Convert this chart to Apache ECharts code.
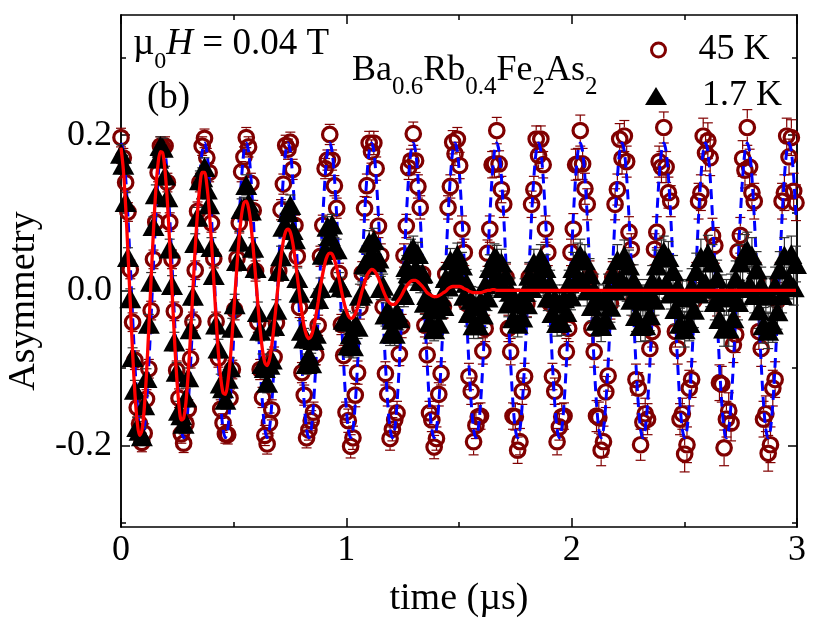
<!DOCTYPE html>
<html>
<head>
<meta charset="utf-8">
<script src="https://cdn.jsdelivr.net/npm/echarts@6/dist/echarts.min.js"></script>
<style>
html,body{margin:0;padding:0;background:#fff;}
#chart{width:814px;height:623px;}
</style>
</head>
<body>
<div id="chart"></div>
<script>
// ---------------- data ----------------
// time bins (µs): value i sits at i * binWidthUs
const binWidthUs = 0.010294;

// 45 K asymmetry (circles)
const asym45K = [
0.197,0.171,0.139,0.101,0.027,-0.041,-0.090,-0.151,-0.172,-0.196,-0.184,-0.140,-0.101,-0.026,0.040,0.088,0.152,0.186,
0.184,0.186,0.139,0.088,0.040,-0.027,-0.103,-0.139,-0.185,-0.197,-0.172,-0.153,-0.088,-0.040,0.026,0.102,0.139,0.186,
0.196,0.171,0.152,0.087,0.041,-0.040,-0.087,-0.153,-0.171,-0.185,-0.186,-0.139,-0.102,-0.025,0.041,0.087,0.153,0.172,
0.197,0.185,0.138,0.103,0.025,-0.041,-0.102,-0.138,-0.187,-0.198,-0.171,-0.154,-0.086,-0.042,0.025,0.104,0.137,0.187,
0.182,0.191,0.156,0.084,0.044,-0.022,-0.106,-0.135,-0.190,-0.180,-0.168,-0.157,-0.083,-0.045,0.044,0.084,0.157,0.168,
0.201,0.168,0.135,0.106,0.022,-0.044,-0.084,-0.157,-0.168,-0.201,-0.190,-0.135,-0.106,-0.022,0.022,0.106,0.135,0.190,
0.179,0.190,0.157,0.083,0.045,-0.021,-0.107,-0.134,-0.191,-0.179,-0.167,-0.158,-0.082,-0.046,0.045,0.083,0.158,0.167,
0.202,0.167,0.134,0.107,0.021,-0.045,-0.083,-0.158,-0.167,-0.202,-0.191,-0.134,-0.107,-0.021,0.021,0.107,0.134,0.191,
0.176,0.195,0.161,0.079,0.049,-0.017,-0.111,-0.130,-0.195,-0.174,-0.163,-0.162,-0.078,-0.049,0.048,0.079,0.162,0.163,
0.206,0.163,0.130,0.111,0.017,-0.049,-0.079,-0.162,-0.163,-0.206,-0.195,-0.130,-0.111,-0.017,0.017,0.111,0.130,0.195,
0.174,0.195,0.162,0.079,0.049,-0.017,-0.111,-0.130,-0.195,-0.176,-0.163,-0.162,-0.079,-0.049,0.049,0.079,0.162,0.163,
0.206,0.163,0.131,0.111,0.018,-0.049,-0.079,-0.162,-0.164,-0.206,-0.195,-0.131,-0.110,-0.017,0.017,0.111,0.130,0.195,
0.170,0.199,0.166,0.075,0.053,-0.013,-0.115,-0.126,-0.199,-0.170,-0.159,-0.166,-0.075,-0.053,0.053,0.075,0.166,0.159,
0.210,0.159,0.126,0.115,0.013,-0.053,-0.075,-0.166,-0.159,-0.211,-0.199,-0.126,-0.115,-0.013,0.013,0.115,0.126,0.199,
0.177,0.193,0.171,0.070,0.058,-0.010,-0.119,-0.121,-0.203,-0.166,-0.155,-0.171,-0.070,-0.057,0.050,0.071,0.170,0.155,
0.210,0.159,0.126,0.115,0.013,-0.053,-0.075,-0.166,-0.159,-0.210,-0.199,-0.126,-0.115,-0.013,0.013,0.115,0.126,0.199,
0.172,0.197,0.128,0.113
];

// 1.7 K asymmetry (triangles)
const asym1p7K = [
0.176,0.162,0.114,0.043,-0.010,-0.086,-0.128,-0.176,-0.181,-0.188,-0.148,-0.113,-0.043,0.011,0.083,0.124,0.170,0.186,
0.184,0.148,0.120,0.054,0.007,-0.066,-0.105,-0.155,-0.161,-0.172,-0.138,-0.112,-0.050,-0.007,0.061,0.095,0.142,0.146,
0.159,0.130,0.111,0.056,0.020,-0.044,-0.075,-0.120,-0.126,-0.141,-0.114,-0.099,-0.048,-0.018,0.038,0.063,0.105,0.107,
0.136,0.113,0.103,0.055,0.029,-0.028,-0.052,-0.095,-0.100,-0.119,-0.096,-0.089,-0.046,-0.025,0.025,0.044,0.082,0.083,
0.101,0.110,0.078,0.066,0.016,-0.003,-0.052,-0.062,-0.095,-0.084,-0.094,-0.064,-0.056,-0.011,0.003,0.046,0.052,0.082,
0.070,0.085,0.055,0.053,0.010,0.004,-0.038,-0.040,-0.071,-0.057,-0.072,-0.044,-0.047,-0.007,-0.004,0.034,0.033,0.062,
0.048,0.065,0.036,0.041,0.003,0.006,-0.031,-0.026,-0.056,-0.038,-0.056,-0.028,-0.036,0.000,-0.006,0.030,0.022,0.051,
0.055,0.029,0.047,0.012,0.022,-0.016,-0.006,-0.041,-0.024,-0.050,-0.025,-0.043,-0.008,-0.020,0.016,0.005,0.039,0.021,
0.021,0.046,0.015,0.032,-0.007,0.010,-0.029,-0.012,-0.045,-0.020,-0.045,-0.013,-0.031,0.008,-0.009,0.029,0.010,0.043,
0.041,0.015,0.036,0.003,0.019,-0.017,-0.001,-0.036,-0.015,-0.043,-0.016,-0.035,-0.002,-0.018,0.019,0.003,0.036,0.016,
0.017,0.042,0.010,0.029,-0.009,0.009,-0.029,-0.010,-0.042,-0.017,-0.041,-0.010,-0.028,0.009,-0.008,0.029,0.011,0.041,
0.046,0.013,0.039,0.000,0.021,-0.020,0.001,-0.039,-0.012,-0.046,-0.013,-0.038,0.001,-0.021,0.021,0.000,0.039,0.013,
0.013,0.045,0.006,0.032,-0.012,0.013,-0.033,-0.006,-0.046,-0.013,-0.045,-0.006,-0.032,0.012,-0.012,0.032,0.007,0.045,
0.050,0.010,0.043,-0.004,0.025,-0.024,0.005,-0.043,-0.008,-0.050,-0.009,-0.042,0.005,-0.025,0.025,-0.004,0.043,0.009,
0.010,0.048,0.002,0.036,-0.015,0.016,-0.037,-0.003,-0.049,-0.009,-0.049,-0.002,-0.036,0.015,-0.015,0.036,0.003,0.049,
0.052,0.008,0.045,-0.006,0.027,-0.026,0.007,-0.045,-0.005,-0.052,-0.007,-0.044,0.007,-0.027,0.027,-0.006,0.045,0.007,
0.012,0.047,0.004,0.034
];

// fit curve for 45 K (blue dashed), same time bins
const fit45K = [
0.190,0.179,0.146,0.095,0.033,-0.033,-0.095,-0.146,-0.179,-0.190,-0.179,-0.146,-0.095,-0.033,0.033,0.095,0.146,0.179,
0.190,0.179,0.146,0.095,0.033,-0.033,-0.095,-0.146,-0.179,-0.190,-0.179,-0.146,-0.095,-0.033,0.033,0.095,0.146,0.179,
0.190,0.179,0.146,0.095,0.033,-0.033,-0.095,-0.146,-0.179,-0.190,-0.179,-0.146,-0.095,-0.033,0.033,0.095,0.146,0.179,
0.190,0.179,0.146,0.095,0.033,-0.033,-0.095,-0.146,-0.179,-0.190,-0.179,-0.146,-0.095,-0.033,0.033,0.095,0.146,0.179,
0.190,0.179,0.146,0.095,0.033,-0.033,-0.095,-0.146,-0.179,-0.190,-0.179,-0.146,-0.095,-0.033,0.033,0.095,0.146,0.179,
0.190,0.179,0.146,0.095,0.033,-0.033,-0.095,-0.146,-0.179,-0.190,-0.179,-0.146,-0.095,-0.033,0.033,0.095,0.146,0.179,
0.190,0.179,0.146,0.095,0.033,-0.033,-0.095,-0.146,-0.179,-0.190,-0.179,-0.146,-0.095,-0.033,0.033,0.095,0.146,0.179,
0.190,0.179,0.146,0.095,0.033,-0.033,-0.095,-0.146,-0.179,-0.190,-0.179,-0.146,-0.095,-0.033,0.033,0.095,0.146,0.179,
0.190,0.179,0.146,0.095,0.033,-0.033,-0.095,-0.146,-0.179,-0.190,-0.179,-0.146,-0.095,-0.033,0.033,0.095,0.146,0.179,
0.190,0.179,0.146,0.095,0.033,-0.033,-0.095,-0.146,-0.179,-0.190,-0.179,-0.146,-0.095,-0.033,0.033,0.095,0.146,0.179,
0.190,0.179,0.146,0.095,0.033,-0.033,-0.095,-0.146,-0.179,-0.190,-0.179,-0.146,-0.095,-0.033,0.033,0.095,0.146,0.179,
0.190,0.179,0.146,0.095,0.033,-0.033,-0.095,-0.146,-0.179,-0.190,-0.179,-0.146,-0.095,-0.033,0.033,0.095,0.146,0.179,
0.190,0.179,0.146,0.095,0.033,-0.033,-0.095,-0.146,-0.179,-0.190,-0.179,-0.146,-0.095,-0.033,0.033,0.095,0.146,0.179,
0.190,0.179,0.146,0.095,0.033,-0.033,-0.095,-0.146,-0.179,-0.190,-0.179,-0.146,-0.095,-0.033,0.033,0.095,0.146,0.179,
0.190,0.179,0.146,0.095,0.033,-0.033,-0.095,-0.146,-0.179,-0.190,-0.179,-0.146,-0.095,-0.033,0.033,0.095,0.146,0.179,
0.190,0.179,0.146,0.095,0.033,-0.033,-0.095,-0.146,-0.179,-0.190,-0.179,-0.146,-0.095,-0.033,0.033,0.095,0.146,0.179,
0.190,0.179,0.146,0.095
];

// fit curve for 1.7 K (red solid), same time bins
const fit1p7K = [
0.184,0.156,0.109,0.049,-0.016,-0.080,-0.133,-0.170,-0.187,-0.181,-0.153,-0.107,-0.048,0.016,0.077,0.129,0.164,0.179,
0.177,0.154,0.114,0.060,0.000,-0.059,-0.111,-0.148,-0.167,-0.165,-0.144,-0.106,-0.056,0.000,0.055,0.101,0.135,0.152,
0.152,0.136,0.105,0.062,0.013,-0.037,-0.081,-0.113,-0.132,-0.134,-0.120,-0.092,-0.054,-0.011,0.032,0.070,0.098,0.113,
0.115,0.106,0.085,0.054,0.019,-0.018,-0.051,-0.077,-0.093,-0.097,-0.089,-0.071,-0.045,-0.015,0.015,0.043,0.064,0.076,
0.079,0.075,0.062,0.042,0.018,-0.006,-0.029,-0.047,-0.058,-0.062,-0.059,-0.049,-0.033,-0.015,0.005,0.022,0.036,0.045,
0.048,0.047,0.040,0.029,0.015,0.000,-0.014,-0.025,-0.033,-0.036,-0.035,-0.030,-0.022,-0.011,0.000,0.010,0.019,0.024,
0.027,0.026,0.022,0.016,0.008,0.000,-0.007,-0.013,-0.017,-0.018,-0.018,-0.015,-0.011,-0.006,0.000,0.005,0.009,0.012,
0.013,0.013,0.011,0.008,0.005,0.001,-0.003,-0.005,-0.007,-0.008,-0.008,-0.007,-0.005,-0.003,-0.001,0.002,0.004,0.005,
0.005,0.005,0.005,0.004,0.002,0.001,-0.001,-0.002,-0.003,-0.003,-0.003,-0.003,-0.002,-0.001,0.000,0.000,0.001,0.001,
0,0,0,0,0,0,0,0,0,0, 0,0,0,0,0,0,0,0,0,0, 0,0,0,0,0,0,0,0,0,0, 0,0,0,0,0,0,0,0,0,0,
0,0,0,0,0,0,0,0,0,0, 0,0,0,0,0,0,0,0,0,0, 0,0,0,0,0,0,0,0,0,0, 0,0,0,0,0,0,0,0,0,0,
0,0,0,0,0,0,0,0,0,0, 0,0,0,0,0,0,0,0,0,0, 0,0,0,0,0,0,0,0,0,0, 0,0,0,0,0,0,0,0,0,0,
0,0,0,0,0,0,0,0,0,0
];

// error-bar half widths per 0.5 µs block
const errorHalfWidth = [0.012, 0.013, 0.015, 0.017, 0.020, 0.023];

// axis ticks / labels
const yLabelValues = [-0.2, 0, 0.2];
const yMinorValues = [-0.3, -0.1, 0.1, 0.3];
const seriesNames = ['45 K', '1.7 K'];

// ---------------- build chart ----------------
const FONT = "'Liberation Serif', 'DejaVu Serif', serif";
const RED_DARK = '#800000';

function errFor(t) {
  return errorHalfWidth[Math.min(errorHalfWidth.length - 1, Math.floor(t / 0.5))];
}
const points45 = asym45K.map((y, i) => [i * binWidthUs, y]);
const points17 = asym1p7K.map((y, i) => [i * binWidthUs, y]);
const err45 = points45.map(p => [p[0], p[1], errFor(p[0])]);
const err17 = points17.map(p => [p[0], p[1], errFor(p[0])]);
const fit45Pts = fit45K.map((y, i) => [i * binWidthUs, y]);
const fit17Pts = fit1p7K.map((y, i) => [i * binWidthUs, y]);

function makeErrorRenderer(color, gapPx) {
  return function (params, api) {
    const t = api.value(0), y = api.value(1), e = api.value(2);
    const c = api.coord([t, y]);
    const top = api.coord([t, y + e]);
    const bot = api.coord([t, y - e]);
    const half = 5;
    const style = { stroke: color, lineWidth: 1.2, fill: null };
    const children = [];
    if (c[1] - top[1] > gapPx) {
      children.push({ type: 'line', shape: { x1: c[0], y1: c[1] - gapPx, x2: c[0], y2: top[1] }, style });
    }
    children.push({ type: 'line', shape: { x1: c[0] - half, y1: top[1], x2: c[0] + half, y2: top[1] }, style });
    if (bot[1] - c[1] > gapPx) {
      children.push({ type: 'line', shape: { x1: c[0], y1: c[1] + gapPx, x2: c[0], y2: bot[1] }, style });
    }
    children.push({ type: 'line', shape: { x1: c[0] - half, y1: bot[1], x2: c[0] + half, y2: bot[1] }, style });
    return { type: 'group', children };
  };
}

const axisLineStyle = { color: '#000', width: 1.5 };
const yMin = -0.305, yMax = 0.355;

function xAxisDef(pos, showLabel) {
  return {
    type: 'value', position: pos, min: 0, max: 3, interval: 1,
    axisLine: { show: true, onZero: false, lineStyle: axisLineStyle },
    axisTick: { show: true, inside: true, length: 9, lineStyle: axisLineStyle },
    minorTick: { show: true, splitNumber: 2, length: 5, lineStyle: axisLineStyle },
    splitLine: { show: false }, minorSplitLine: { show: false },
    axisLabel: { show: showLabel, fontSize: 36, fontFamily: FONT, color: '#000', margin: 6 },
    name: showLabel ? 'time (µs)' : '', nameLocation: 'middle', nameGap: 53,
    nameTextStyle: { fontSize: 38, fontFamily: FONT, color: '#000' }
  };
}
function yAxisDef(pos, tickValues, len, showLabel) {
  return {
    type: 'value', position: pos, min: yMin, max: yMax,
    axisLine: { show: true, onZero: false, lineStyle: axisLineStyle },
    axisTick: { show: true, inside: true, length: len, customValues: tickValues, lineStyle: axisLineStyle },
    splitLine: { show: false },
    axisLabel: {
      show: showLabel, customValues: yLabelValues, fontSize: 36, fontFamily: FONT, color: '#000', margin: 9,
      formatter: v => v.toFixed(1)
    }
  };
}

const legendText = { fontSize: 36, fontFamily: FONT, color: '#000', lineHeight: 36 };

const option = {
  animation: false,
  backgroundColor: '#fff',
  grid: { left: 121, right: 17, top: 15, bottom: 96 },
  xAxis: [xAxisDef('bottom', true), xAxisDef('top', false)],
  yAxis: [
    yAxisDef('left', yLabelValues, 9, true),
    yAxisDef('left', yMinorValues, 5, false),
    yAxisDef('right', yLabelValues, 9, false),
    yAxisDef('right', yMinorValues, 5, false)
  ],
  legend: [
    {
      orient: 'vertical', left: 645, top: 27, itemWidth: 14, itemHeight: 14,
      textStyle: Object.assign({ padding: [0, 0, 0, 28] }, legendText),
      data: [{ name: seriesNames[0], icon: 'circle',
        itemStyle: { color: 'rgba(255,255,255,0)', borderColor: RED_DARK, borderWidth: 3, opacity: 1 } }]
    },
    {
      orient: 'vertical', left: 640, top: 73, itemWidth: 22, itemHeight: 18,
      textStyle: Object.assign({ padding: [0, 0, 0, 30] }, legendText),
      data: [{ name: seriesNames[1], icon: 'triangle', itemStyle: { color: '#000', borderWidth: 0, opacity: 1 } }]
    }
  ],
  graphic: [
    { type: 'text', x: 133, y: 44, z: 100,
      style: { text: '{m|µ}{s|0}{i|H}{m| = 0.04 T}', verticalAlign: 'middle', align: 'left',
        rich: {
          m: { fontSize: 37, fontFamily: FONT, lineHeight: 60, verticalAlign: 'middle', fill: '#000' },
          i: { fontSize: 37, fontFamily: FONT, fontStyle: 'italic', lineHeight: 60, verticalAlign: 'middle', fill: '#000' },
          s: { fontSize: 24, fontFamily: FONT, lineHeight: 24, verticalAlign: 'bottom', fill: '#000' }
        } } },
    { type: 'text', x: 147, y: 98, z: 100,
      style: { text: '(b)', font: '37px ' + FONT, fill: '#000', verticalAlign: 'middle', align: 'left' } },
    { type: 'text', x: 352, y: 71, z: 100,
      style: { text: '{m|Ba}{s|0.6}{m|Rb}{s|0.4}{m|Fe}{s|2}{m|As}{s|2}', verticalAlign: 'middle', align: 'left',
        rich: {
          m: { fontSize: 36, fontFamily: FONT, lineHeight: 58, verticalAlign: 'middle', fill: '#000' },
          s: { fontSize: 25, fontFamily: FONT, lineHeight: 24, verticalAlign: 'bottom', fill: '#000' }
        } } },
    { type: 'text', x: 24, y: 301, rotation: Math.PI / 2, z: 100,
      style: { text: 'Asymmetry', font: '38px ' + FONT, fill: '#000', align: 'center', verticalAlign: 'middle' } }
  ],
  series: [
    { name: '45 K error', type: 'custom', data: err45, z: 1, silent: true,
      renderItem: makeErrorRenderer(RED_DARK, 9) },
    { name: seriesNames[0], type: 'scatter', data: points45, z: 2, symbol: 'circle', symbolSize: 14.5,
      itemStyle: { color: 'rgba(255,255,255,0)', borderColor: RED_DARK, borderWidth: 3.2, opacity: 1 } },
    { name: '45 K fit', type: 'line', data: fit45Pts, z: 3, showSymbol: false, smooth: 0.3, silent: true,
      lineStyle: { color: '#0000ff', width: 3, type: [10, 6] } },
    { name: '1.7 K error', type: 'custom', data: err17, z: 4, silent: true,
      renderItem: makeErrorRenderer('#333', 0) },
    { name: seriesNames[1], type: 'scatter', data: points17, z: 5, symbol: 'triangle', symbolSize: [22, 20],
      itemStyle: { color: '#000', opacity: 1 } },
    { name: '1.7 K fit', type: 'line', data: fit17Pts, z: 6, showSymbol: false, smooth: 0.3, silent: true,
      lineStyle: { color: '#ff0000', width: 3.3 } }
  ]
};

const chart = echarts.init(document.getElementById('chart'), null, { renderer: 'canvas' });
chart.setOption(option);
</script>
</body>
</html>
